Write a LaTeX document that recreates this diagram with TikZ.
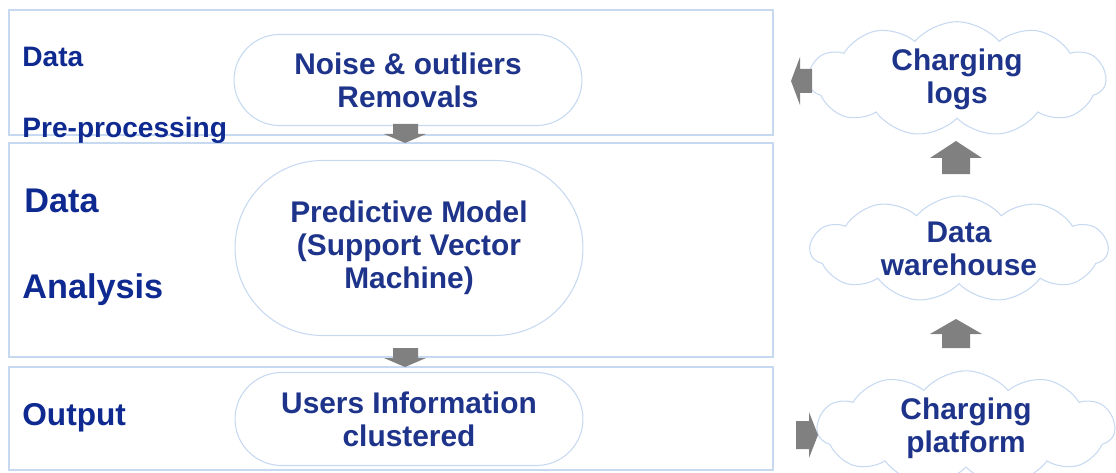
\documentclass[tikz,border=0pt]{standalone}
\usepackage{fontspec}
\setmainfont{Liberation Sans}
\usetikzlibrary{shapes.misc,shapes.symbols}
\definecolor{boxline}{RGB}{198,217,241}
\definecolor{txtblue}{RGB}{30,52,138}
\definecolor{lblblue}{RGB}{14,42,145}
\definecolor{arrowgray}{RGB}{128,128,128}

\begin{document}
\begin{tikzpicture}[x=0.02cm,y=-0.02cm,
    stage/.style={draw=boxline,line width=0.7pt},
    stagelabel/.style={anchor=base west,inner sep=0pt,text=lblblue,font=\bfseries},
    pill/.style={rounded rectangle,draw=boxline,line width=0.6pt,inner sep=0pt,
      minimum width=6.96cm,align=center,text=txtblue,
      font=\bfseries\fontsize{17}{18.8}\selectfont},
    puff/.style={cloud,cloud puffs=11,cloud puff arc=100,aspect=2.8,
      draw=boxline,line width=0.6pt,inner sep=0pt,minimum width=5.95cm,
      minimum height=2.12cm,align=center,text=txtblue,
      font=\bfseries\fontsize{17}{18.8}\selectfont},
    blockarrow/.style={fill=arrowgray}]
  \useasboundingbox (0,0) rectangle (1116,473);

  % stages on the left
  \draw[stage] (9,10) rectangle (773,135);
  \draw[stage] (9,143) rectangle (773,357);
  \draw[stage] (9,367) rectangle (773,470);

  \node[stagelabel,font=\bfseries\fontsize{16}{18}\selectfont] (prelbl1) at (22,67) {Data};
  \node[stagelabel,font=\bfseries\fontsize{16}{18}\selectfont] (prelbl2) at (22,137) {Pre-processing};
  \node[stagelabel,font=\bfseries\fontsize{19.5}{22}\selectfont] (analbl1) at (24,213) {Data};
  \node[stagelabel,font=\bfseries\fontsize{19.5}{22}\selectfont] (analbl2) at (22,298) {Analysis};
  \node[stagelabel,font=\bfseries\fontsize{18}{20}\selectfont] (outlbl) at (22,425) {Output};

  \node[pill,minimum height=1.82cm] (noise) at (408,80) {Noise \& outliers\\Removals};
  \node[pill,minimum height=3.5cm] (svm) at (409,248) {Predictive Model\\(Support Vector\\Machine)};
  \node[pill,minimum height=1.86cm] (users) at (409,419) {Users Information\\clustered};

  % clouds on the right
  \node[puff] (logs) at (957,79) {Charging\\logs};
  \node[puff] (warehouse) at (959,249) {Data\\warehouse};
  \node[puff] (platform) at (966,428) {Charging\\platform};

  % block arrows
  \fill[blockarrow] (393,124) -- (418,124) -- (418,134) -- (426,134) -- (405,143) -- (384,134) -- (393,134) -- cycle;
  \fill[blockarrow] (393,348) -- (418,348) -- (418,358) -- (426,358) -- (405,367) -- (384,358) -- (393,358) -- cycle;
  \fill[blockarrow] (812,69) -- (812,93) -- (800,93) -- (800,105) -- (791,81) -- (800,57) -- (800,69) -- cycle;
  \fill[blockarrow] (942,174) -- (970,174) -- (970,158) -- (982,158) -- (956,141) -- (930,158) -- (942,158) -- cycle;
  \fill[blockarrow] (942,348) -- (970,348) -- (970,334) -- (982,334) -- (956,319) -- (930,334) -- (942,334) -- cycle;
  \fill[blockarrow] (796,421) -- (796,449) -- (809,449) -- (809,458) -- (818,435) -- (809,412) -- (809,421) -- cycle;
\end{tikzpicture}
\end{document}
